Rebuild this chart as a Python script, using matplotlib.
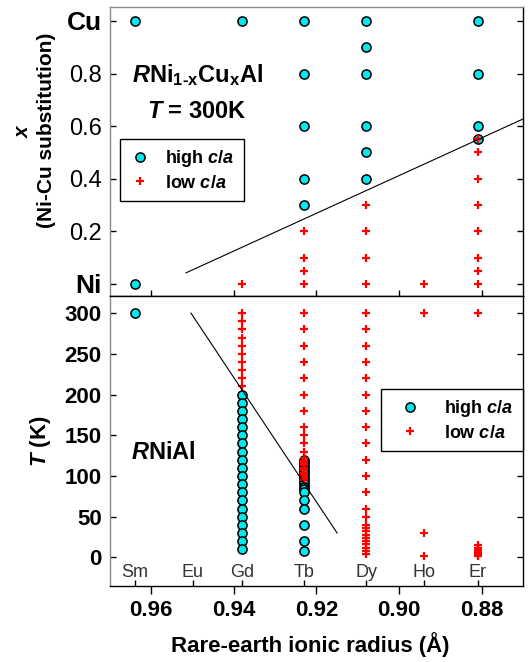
import matplotlib
matplotlib.use("Agg")
import matplotlib.pyplot as plt

plt.rcParams['font.family'] = ['Liberation Sans', 'DejaVu Sans']
plt.rcParams['mathtext.fontset'] = 'custom'
plt.rcParams['mathtext.rm'] = 'Liberation Sans:bold'
plt.rcParams['mathtext.bf'] = 'Liberation Sans:bold'
plt.rcParams['mathtext.it'] = 'Liberation Sans:italic:bold'

# rare-earth ionic radii (Angstrom)
elements = ['Sm', 'Eu', 'Gd', 'Tb', 'Dy', 'Ho', 'Er']
radii = [0.964, 0.950, 0.938, 0.923, 0.908, 0.894, 0.881]
r = dict(zip(elements, radii))

# top panel: RNi(1-x)Cu(x)Al at 300 K, x values
top_high = {
    'Sm': [1.0, 0.0],
    'Gd': [1.0],
    'Tb': [1.0, 0.8, 0.6, 0.4, 0.3],
    'Dy': [1.0, 0.9, 0.8, 0.6, 0.5, 0.4],
    'Er': [1.0, 0.8, 0.6, 0.55],
}
top_low = {
    'Gd': [0.0],
    'Tb': [0.2, 0.1, 0.05, 0.0],
    'Dy': [0.3, 0.2, 0.1, 0.0],
    'Ho': [0.0],
    'Er': [0.55, 0.5, 0.4, 0.3, 0.2, 0.1, 0.05, 0.0],
}
top_line_x = [0.9516, 0.870]
top_line_y = [0.042, 0.627]

# bottom panel: RNiAl, temperatures (K)
bot_high = {
    'Sm': [300],
    'Gd': [200, 190, 180, 170, 160, 150, 140, 130, 120, 110,
           100, 90, 80, 70, 60, 50, 40, 30, 20, 10],
    'Tb': [120, 117, 114, 111, 108, 105, 102, 99, 96, 93, 90, 87, 84,
           80, 70, 60, 40, 20, 8],
}
bot_low = {
    'Gd': [300, 290, 280, 270, 260, 250, 240, 230, 220, 210],
    'Tb': [300, 280, 260, 240, 220, 200, 180, 160, 150, 140, 130,
           122, 119, 116, 113, 110, 107, 104, 101, 98, 95],
    'Dy': [300, 280, 260, 240, 220, 200, 180, 160, 140, 120, 100, 80,
           60, 50, 40, 36, 32, 28, 24, 20, 16, 12, 8, 4],
    'Ho': [300, 30, 2],
    'Er': [300, 15, 12, 10, 8, 6, 5, 4, 3, 2],
}
bot_line_x = [0.9504, 0.915]
bot_line_y = [300, 30]

cyan = '#00e8f0'
hi_style = dict(ls='none', marker='o', ms=6.6, mfc=cyan, mec='black', mew=1.1)
lo_style = dict(ls='none', marker='+', ms=6, color='red', mew=1.6)

fig = plt.figure(figsize=(5.32, 6.62), dpi=100)
ax1 = fig.add_axes([0.2068, 0.5529, 0.7762, 0.4365])
ax2 = fig.add_axes([0.2068, 0.1148, 0.7762, 0.4381])

for ax in (ax1, ax2):
    ax.set_xlim(0.970, 0.870)
    ax.spines['left'].set_color('#8a8a8a')
    ax.spines['top'].set_color('#8a8a8a')
    for s in ('left', 'top', 'right', 'bottom'):
        ax.spines[s].set_linewidth(1.0)
    ax.set_xticks([0.96, 0.94, 0.92, 0.90, 0.88])
    ax.tick_params(axis='y', direction='in', left=True, right=True, length=4, width=1)

# ---- top panel
for el, xs in top_high.items():
    ax1.plot([r[el]] * len(xs), xs, **hi_style)
for el, xs in top_low.items():
    ax1.plot([r[el]] * len(xs), xs, **lo_style)
ax1.plot(top_line_x, top_line_y, color='black', lw=0.8)
ax1.set_ylim(-0.046, 1.053)
ax1.set_yticks([0, 0.2, 0.4, 0.6, 0.8, 1.0])
ax1.set_yticklabels(['Ni', '0.2', '0.4', '0.6', '0.8', 'Cu'])
for lab in ax1.get_yticklabels():
    if lab.get_text() in ('Ni', 'Cu'):
        lab.set_fontsize(19)
        lab.set_fontweight('bold')
    else:
        lab.set_fontsize(17)
ax1.tick_params(axis='y', pad=6)
ax1.tick_params(axis='x', direction='inout', length=9, width=1, bottom=True,
                top=False, labelbottom=False)
ax1.spines['bottom'].set_color('black')
ax1.set_ylabel('$x$\n(Ni-Cu substitution)', fontsize=15, fontweight='bold',
               linespacing=1.35)
ax1.yaxis.set_label_coords(-0.13, 0.574)
ax1.text(0.211, 0.765, r'$R$Ni$_{\mathregular{1\text{-}x}}$Cu$_{\mathregular{x}}$Al',
         transform=ax1.transAxes, ha='center', va='center', fontsize=17,
         fontweight='bold')
ax1.text(0.211, 0.637, '$T$ = 300K', transform=ax1.transAxes, ha='center',
         va='center', fontsize=17, fontweight='bold')
h1, = ax1.plot([], [], label='high $c/a$', **hi_style)
h2, = ax1.plot([], [], label='low $c/a$', **lo_style)
ax1.legend(handles=[h1, h2], loc='upper left', bbox_to_anchor=(0.024, 0.543),
           fancybox=False, edgecolor='black', framealpha=1,
           prop={'size': 13, 'weight': 'bold'}, handlelength=1.2,
           handletextpad=0.8, borderpad=0.5, borderaxespad=0,
           labelspacing=0.3)

# ---- bottom panel
for el, ts in bot_high.items():
    ax2.plot([r[el]] * len(ts), ts, **hi_style)
for el, ts in bot_low.items():
    ax2.plot([r[el]] * len(ts), ts, **lo_style)
ax2.plot(bot_line_x, bot_line_y, color='black', lw=0.8)
ax2.set_ylim(-35, 321)
ax2.set_yticks([0, 50, 100, 150, 200, 250, 300])
ax2.tick_params(axis='y', labelsize=16, pad=6)
for lab in ax2.get_yticklabels():
    lab.set_fontweight('bold')
ax2.spines['top'].set_color('black')
ax2.tick_params(axis='x', which='major', direction='out', length=6, width=1,
                bottom=True, top=False, labelsize=16, pad=4)
ax2.set_xticklabels(['0.96', '0.94', '0.92', '0.90', '0.88'], fontweight='bold')
ax2.set_xticks(radii, minor=True)
ax2.tick_params(axis='x', which='minor', direction='in', length=4, width=1)
for el, x in zip(elements, radii):
    ax2.text(x, -19, el, ha='center', va='center', fontsize=13, color='#333333')
ax2.set_ylabel('$T$ (K)', fontsize=16, fontweight='bold')
ax2.yaxis.set_label_coords(-0.138, 0.5)
ax2.set_xlabel('Rare-earth ionic radius (Å)', fontsize=16, fontweight='bold')
ax2.xaxis.set_label_coords(0.484, -0.16)
ax2.text(0.128, 0.459, '$R$NiAl', transform=ax2.transAxes, ha='center',
         va='center', fontsize=17, fontweight='bold')
h3, = ax2.plot([], [], label='high $c/a$', **hi_style)
h4, = ax2.plot([], [], label='low $c/a$', **lo_style)
ax2.legend(handles=[h3, h4], loc='upper left', bbox_to_anchor=(0.656, 0.679),
           fancybox=False, edgecolor='black', framealpha=1,
           prop={'size': 13, 'weight': 'bold'}, handlelength=2.2,
           handletextpad=0.8, borderpad=0.5, borderaxespad=0,
           labelspacing=0.3)

fig.savefig('out.png', dpi=100)
